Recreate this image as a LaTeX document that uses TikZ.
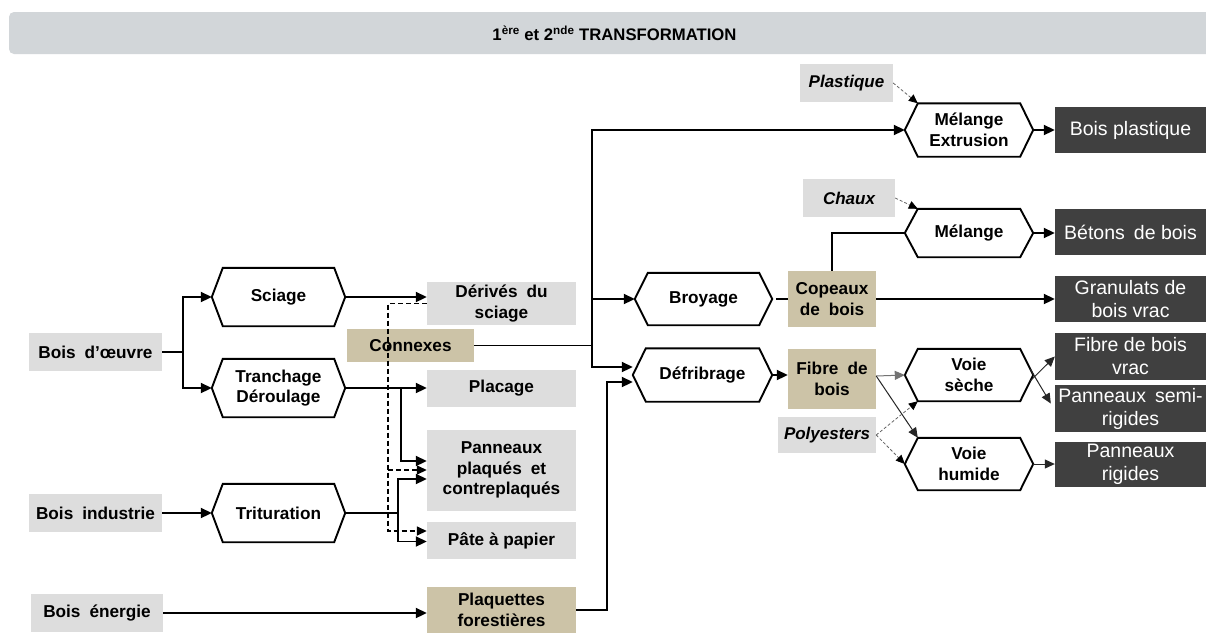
\documentclass[tikz,border=0pt]{standalone}
\usepackage{fontspec}
\setmainfont{Liberation Sans}
\usetikzlibrary{arrows.meta,calc}
\definecolor{lgray}{HTML}{DDDDDD}
\definecolor{tanc}{HTML}{CCC3A7}
\definecolor{darkc}{HTML}{404040}
\definecolor{bannerc}{HTML}{D2D6D9}
\newcommand\wsp{\hspace{9pt}}
\tikzset{
 bx/.style={inner sep=0pt, align=center, font=\fontsize{17.2}{20.5}\selectfont\bfseries},
 sz/.style 2 args={minimum width=#1pt, minimum height=#2pt},
 lg/.style={bx, fill=lgray},
 tn/.style={bx, fill=tanc},
 dk/.style={inner sep=0pt, align=center, fill=darkc, text=white, font=\fontsize{19.5}{23}\selectfont},
 itl/.style={lg, font=\fontsize{17}{20.5}\selectfont\bfseries\itshape},
 hexline/.style={draw=black, line width=1.9pt, line join=miter},
 conn/.style={line width=1.9pt},
 arr/.style={conn, -{Triangle[length=11pt,width=10pt]}},
 tarr/.style={line width=1pt, draw=black!85, -{Triangle[length=10pt,width=9pt]}},
 dsh/.style={line width=1.5pt, dash pattern=on 5pt off 3pt, -{Triangle[length=10pt,width=9pt]}},
 thd/.style={line width=0.8pt, draw=black!60, dash pattern=on 3pt off 2pt, -{Triangle[length=9pt,width=8pt,color=black]}},
}
\newcommand\hexnode[7]{%
 \node[bx, sz={#4}{#5}] (#1) at (#2,#3) {#6};
 \draw[hexline] (#1.west) -- ([xshift=#7pt]#1.north west) -- ([xshift=-#7pt]#1.north east) -- (#1.east) -- ([xshift=-#7pt]#1.south east) -- ([xshift=#7pt]#1.south west) -- cycle;}
\begin{document}
\begin{tikzpicture}[x=1pt,y=-1pt]
\useasboundingbox (0,0) rectangle (1206,633);
\fill[white] (0,0) rectangle (1206,633);
\node[fill=bannerc, rounded corners=5pt, minimum width=1211pt, minimum height=42pt, inner sep=0pt, font=\fontsize{16.7}{18}\selectfont\bfseries] (ban) at (614.5,33) {1\textsuperscript{ère} et 2\textsuperscript{nde} TRANSFORMATION};

% light gray boxes
\node[lg, sz={133}{38}] (bo) at (95.5,352) {Bois\wsp d’œuvre};
\node[lg, sz={133}{38}] (bi) at (95.5,513) {Bois\wsp industrie};
\node[lg, sz={132}{38}] (be) at (97,613) {Bois\wsp énergie};
\node[lg, sz={149}{43}] (dv) at (501.5,303.5) {Dérivés\wsp du\\sciage};
\node[lg, sz={149}{37}] (pl) at (501.5,388.5) {Placage};
\node[lg, sz={149}{81}] (pn) at (501.5,470) {Panneaux\\plaqués\wsp et\\contreplaqués};
\node[lg, sz={149}{37}] (pp) at (501.5,540.5) {Pâte à papier};
\node[itl, sz={93}{38}] (plq) at (846.5,83) {Plastique};
\node[itl, sz={92}{38}] (ch) at (849,198) {Chaux};
\node[itl, sz={98}{36}] (py) at (827,435) {Polyesters};
% tan boxes
\node[tn, sz={127}{33}] (cx) at (410.5,345.5) {Connexes};
\node[tn, sz={149}{46}] (pq) at (501.5,610) {Plaquettes\\forestières};
\node[tn, sz={88}{56}] (cp) at (832,299) {Copeaux\\de\wsp bois};
\node[tn, sz={88}{60}] (fb) at (832,379) {Fibre\wsp de\\bois};
% dark boxes
\node[dk, sz={151}{46}] (bp) at (1130.5,130) {Bois plastique};
\node[dk, sz={151}{46}] (bt) at (1130.5,232) {Bétons\wsp de bois};
\node[dk, sz={151}{46}] (gr) at (1130.5,299) {Granulats de\\bois vrac};
\node[dk, sz={151}{47}] (fv) at (1130.5,356.5) {Fibre de bois\\vrac};
\node[dk, sz={151}{47}] (ps) at (1130.5,408.5) {Panneaux\wsp semi-\\rigides};
\node[dk, sz={151}{45}] (pr) at (1130.5,464.5) {Panneaux\\rigides};
% hexagons
\hexnode{sc}{278.5}{297}{133}{58}{Sciage}{11}
\hexnode{tr}{278.5}{388}{133}{58}{Tranchage\\Déroulage}{11}
\hexnode{tt}{278.5}{513}{133}{58}{Trituration}{11}
\hexnode{br}{703.5}{299}{137}{52}{Broyage}{13}
\hexnode{df}{702.5}{375}{139}{53}{Défribrage}{13}
\hexnode{me}{969}{130}{128}{53}{Mélange\\Extrusion}{13}
\hexnode{ml}{969}{233}{128}{48}{Mélange}{13}
\hexnode{vs}{969}{375}{128}{52}{Voie\\sèche}{13}
\hexnode{vh}{969}{464}{128}{52}{Voie\\humide}{13}

% connectors
\coordinate (j1) at (183,352);
\draw[conn] (bo.east) -- (j1);
\draw[arr] (j1) |- (sc.west);
\draw[arr] (j1) |- (tr.west);
\draw[arr] (bi.east) -- (tt.west);
\draw[arr] (be.east) -- (be.east -| pq.west);
\draw[arr] (sc.east) -- (sc.east -| dv.west);
\coordinate (dj) at (388,303.5);
\coordinate (dj2) at (388,470);
\draw[dsh] (dv.west) -- (dj) |- ($(pp.west)+(0,-9.5)$);
\draw[dsh] (dj2) -- (pn.west);
\draw[arr] (tr.east) -- (tr.east -| pl.west);
\coordinate (tj) at (401,388);
\draw[arr] (tj) |- ($(pn.west)+(0,-9)$);
\coordinate (ttj) at (398,513);
\draw[conn] (tt.east) -- (ttj);
\draw[arr] (ttj) |- ($(pn.west)+(0,9)$);
\draw[arr] (ttj) |- ($(pp.west)+(0,1)$);
\coordinate (cj) at (592,345.5);
\draw[conn] (cx.east) -- (cj);
\draw[arr] (cj) |- (me.west);
\draw[arr] (cj) |- (br.west);
\draw[arr] (cj) |- ($(df.west)+(0,-8)$);
\coordinate (pj) at (607,610);
\draw[arr] (pq.east) -- (pj) |- ($(df.west)+(0,7)$);
\draw[conn] ([xshift=4pt]br.east) -- (cp.west);
\draw[conn] (cp.north) |- (ml.west);
\draw[arr] (cp.east) -- (cp.east -| gr.west);
\draw[arr] (me.east) -- (bp.west);
\draw[arr] (ml.east) -- (ml.east -| bt.west);
\draw[thd] (plq.east) -- ([xshift=13pt]me.north west);
\draw[thd] (ch.east) -- ([xshift=13pt]ml.north west);
\draw[arr] (df.east) -- (df.east -| fb.west);
\coordinate (fj) at ($(fb.east)+(0,-3)$);
\draw[tarr, draw=black!55] (fj) -- (vs.west);
\draw[tarr] (fj) -- ([xshift=13pt]vh.north west);
\draw[thd] (py.east) -- ([xshift=13pt]vs.south west);
\draw[thd] (py.east) -- (vh.west);
\draw[tarr] ($(vs.east)+(-3,6)$) -- (fv.west);
\draw[tarr] ($(vs.east)+(-3,-6)$) -- ($(ps.west)+(-4,-5)$);
\draw[tarr] (vh.east) -- (vh.east -| pr.west);
\end{tikzpicture}
\end{document}
